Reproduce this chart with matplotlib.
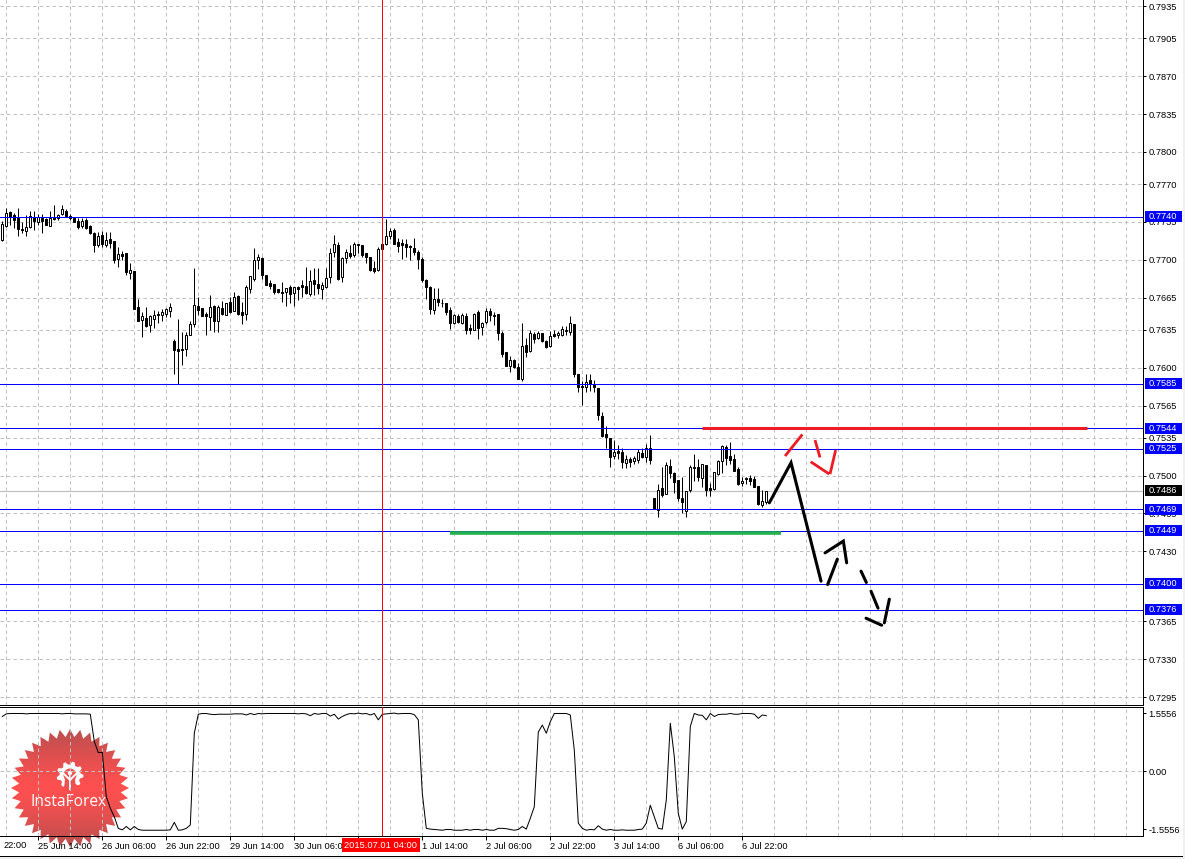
import numpy as np
import matplotlib
matplotlib.use("Agg")
import matplotlib.pyplot as plt
from matplotlib.patches import Polygon, Rectangle, Circle

FONT = "Liberation Sans"
plt.rcParams["font.family"] = [FONT, "DejaVu Sans"]

# ---- candle data, in points (1 point = 0.00001) ----
opens = [
 77182,77315,77442,77411,77390,77281,77269,77300,77399,77352,77386,77374,77315,77386,77386,77420,77451,77405,77383,77362,
 77315,77368,77312,77250,77136,77229,77136,77192,77173,77009,77050,77059,76880,76892,76558,76444,76456,76398,76453,76496,
 76490,76496,76527,76246,76178,76172,76175,76305,76404,76571,76552,76496,76472,76571,76435,76552,76490,76605,76527,76663,
 76512,76500,76731,76821,77000,77016,76855,76781,76775,76728,76700,76700,76750,76694,76744,
 76765,76756,76682,76811,76774,76731,76750,76842,77068,77136,76842,77018,77059,77043,77142,77133,77059,77028,76920,76904,
 77142,77145,77222,77275,77164,77154,77145,77123,77105,77071,77006,76811,76750,76536,76635,76604,76595,76533,76410,76478,
 76416,76478,76366,76354,76515,76379,76422,76530,76487,76493,76323,76144,76017,76070,76005,75894,76209,76156,76311,76274,
 76317,76246,76200,76308,76302,76305,76342,76329,
 76404,75941,75830,75824,75886,75849,75808,75552,75385,75345,75181,75231,75215,75119,75153,75138,75147,75209,75169,75252,
 74792,74680,74884,74829,75088,75023,74959,74789,74674,74866,75085,75076,74974,75095,74884,74875,75020,75138,75268,75178,
 75159,75061,74931,74974,74977,74968,74909,74724,74758]
closes = [
 77328,77430,77393,77371,77288,77275,77306,77405,77362,77393,77362,77325,77386,77374,77411,77467,77408,77386,77352,77306,
 77359,77291,77244,77136,77220,77145,77182,77158,76997,77050,77037,76886,76901,76546,76435,76475,76385,76478,76484,76487,
 76512,76540,76561,76166,76154,76163,76302,76401,76577,76534,76481,76478,76561,76435,76561,76496,76595,76518,76651,76496,
 76490,76744,76846,76994,77022,76861,76768,76759,76700,76704,76694,76734,76682,76744,76731,
 76750,76688,76802,76774,76734,76762,76830,77059,77142,76821,77012,77071,77034,77142,77133,77043,77028,76904,76895,77096,
 77099,77216,77263,77145,77127,77139,77120,77117,77068,77006,76811,76750,76543,76641,76610,76598,76515,76416,76484,76422,
 76484,76354,76351,76502,76366,76410,76524,76487,76478,76323,76125,76020,76076,76008,75900,76200,76147,76317,76268,76326,
 76246,76193,76292,76298,76317,76357,76354,76413,
 75941,75818,75824,75870,75849,75818,75558,75366,75354,75175,75224,75212,75129,75156,75125,75163,75215,75175,75261,75144,
 74687,74872,74823,75095,75027,74943,74792,74758,74854,75085,75073,74989,75104,74869,74869,75030,75135,75271,75163,75147,
 75045,74925,74955,74965,74952,74894,74739,74767,74860]
highs = [
 77359,77476,77451,77430,77476,77352,77414,77451,77451,77424,77420,77383,77451,77507,77420,77507,77467,77424,77390,77383,
 77383,77383,77322,77260,77260,77269,77260,77260,77173,77115,77077,77059,76966,76892,76632,76518,76558,76487,76534,76527,
 76543,76549,76595,76262,76447,76333,76333,76432,76920,76651,76552,76518,76670,76580,76580,76617,76602,76651,76704,76673,
 76611,76765,76849,77105,77050,77028,76861,76812,76775,76728,76796,76734,76762,76750,76756,
 76811,76935,76904,76926,76920,76790,76920,77111,77229,77161,77021,77099,77136,77167,77142,77133,77059,77028,76988,77120,
 77151,77377,77297,77290,77198,77188,77188,77136,77204,77090,77028,76821,76756,76743,76734,76635,76601,76558,76502,76502,
 76509,76509,76404,76509,76533,76425,76549,76549,76518,76502,76342,76144,76107,76085,76045,76416,76271,76354,76332,76339,
 76323,76255,76342,76354,76342,76385,76385,76478,
 76404,75941,75876,75938,75938,75886,75808,75592,75459,75345,75329,75283,75252,75190,75175,75181,75246,75252,75298,75376,
 74792,74922,75082,75129,75159,75036,74959,74989,74860,75098,75197,75159,75107,75095,74928,75036,75144,75283,75283,75311,
 75200,75076,74989,74989,75002,74999,74909,74872,74860]
lows = [
 77173,77306,77322,77291,77223,77244,77223,77297,77275,77318,77250,77322,77315,77368,77368,77411,77399,77368,77346,77288,
 77297,77288,77238,77071,77115,77115,77115,77105,76972,76929,76997,76858,76818,76546,76435,76286,76379,76333,76364,76416,
 76435,76472,76472,75940,75848,76024,76110,76302,76379,76487,76481,76302,76348,76333,76333,76487,76487,76509,76521,76487,
 76404,76441,76688,76799,76914,76818,76768,76728,76682,76694,76605,76571,76602,76571,76626,
 76657,76679,76663,76672,76682,76635,76743,76787,77028,76811,76796,76972,77012,77028,77059,77021,76972,76898,76879,76898,
 76935,77139,77188,77142,77074,77006,77028,76997,77043,76913,76793,76635,76502,76499,76570,76558,76490,76363,76404,76416,
 76404,76311,76311,76348,76264,76305,76404,76434,76394,76255,76095,76014,75962,75993,75891,75878,76101,76150,76230,76268,
 76240,76184,76193,76280,76277,76292,76302,76305,
 75915,75777,75654,75777,75784,75771,75515,75360,75261,75082,75156,75159,75073,75073,75082,75107,75119,75166,75129,75107,
 74687,74619,74798,74829,74983,74844,74767,74656,74619,74850,74952,74952,74897,74813,74810,74872,75002,75023,75098,75107,
 75042,74918,74903,74921,74918,74894,74724,74711,74742]

oscillator = [
 1.47,1.54,1.55,1.55,1.55,1.55,1.54,1.55,1.55,1.55,1.55,1.55,1.55,1.55,1.55,1.54,1.55,1.55,1.54,1.54,
 1.54,1.54,1.53,0.80,0.50,0.51,-0.68,-0.99,-1.22,-1.53,-1.57,-1.48,-1.57,-1.48,-1.56,-1.58,-1.58,-1.58,-1.58,-1.58,
 -1.58,-1.58,-1.57,-1.37,-1.58,-1.57,-1.53,-1.44,1.02,1.53,1.55,1.55,1.53,1.52,1.53,1.53,1.53,1.53,1.54,1.54,
 1.54,1.51,1.55,1.52,1.55,1.54,1.55,1.55,1.55,1.55,1.55,1.55,1.55,1.55,1.54,1.55,1.54,1.49,1.55,1.53,
 1.55,1.55,1.48,1.53,1.40,1.47,1.52,1.55,1.54,1.56,1.54,1.55,1.51,1.55,1.38,1.53,1.54,1.55,1.56,1.54,
 1.55,1.55,1.55,1.52,1.38,-0.59,-1.53,-1.55,-1.56,-1.57,-1.58,-1.56,-1.56,-1.58,-1.58,-1.58,-1.56,-1.58,-1.56,-1.56,
 -1.58,-1.56,-1.58,-1.58,-1.53,-1.53,-1.54,-1.56,-1.58,-1.56,-1.48,-1.55,-1.26,-0.95,1.05,1.24,1.02,1.33,1.55,1.55,
 1.55,1.55,1.51,0.57,-1.39,-1.53,-1.58,-1.56,-1.57,-1.46,-1.55,-1.58,-1.56,-1.58,-1.58,-1.57,-1.58,-1.58,-1.58,-1.56,
 -1.55,-1.39,-0.91,-1.22,-1.53,-1.55,-0.77,1.29,0.39,-1.13,-1.55,-1.35,1.20,1.55,1.51,1.50,1.38,1.55,1.47,1.52,
 1.53,1.53,1.55,1.53,1.53,1.55,1.55,1.55,1.53,1.42,1.51,1.49]

# ---- levels and labels ----
price_ticks = [0.7935,0.7905,0.7870,0.7835,0.7800,0.7770,0.7735,0.7700,0.7665,0.7635,0.7600,
               0.7565,0.7535,0.7500,0.7465,0.7430,0.7365,0.7330,0.7295]
blue_levels = [0.7740,0.7585,0.7544,0.7525,0.7469,0.7449,0.7400,0.7376]
bid_level = 0.7486
osc_ticks = [1.5556, 0.0, -1.5556]
osc_tick_labels = ["1.5556", "0.00", "-1.5556"]
time_tick_bars = [9,25,41,57,73,105,121,137,153,169,185]
time_tick_labels = ["25 Jun 14:00","26 Jun 06:00","26 Jun 22:00","29 Jun 14:00","30 Jun 06:00",
                    "1 Jul 14:00","2 Jul 06:00","2 Jul 22:00","3 Jul 14:00","6 Jul 06:00","6 Jul 22:00"]
crosshair_bar = 95
crosshair_label = "2015.07.01 04:00"

# hand-drawn scenario: (bar, price in points)
black_strokes = [
 [(191.76,74749),(197.18,75120),(204.68,74023)],
 [(206.34,73992),(208.76,74227)],
 [(205.68,74285),(210.26,74394),(211.09,74193)],
 [(214.68,74116),(216.01,74011)],
 [(217.18,73930),(218.93,73773)],
 [(215.93,73680),(219.84,73615)],
 [(220.51,73637),(221.76,73856)],
]
red_strokes = [
 [(195.68,75182),(200.01,75382)],
 [(203.18,75330),(204.43,75169)],
 [(202.09,75129),(206.76,75015)],
 [(208.34,75237),(206.93,75015)],
]
red_segment = ((174.9,271.2),75438)
green_segment = ((111.9,194.7),74465)

# ---- layout ----
W, H = 1185, 859
PX = 72/100            # one pixel, in points
BLUE = "#0000ff"; GRID = "#c0c0c0"
fig = plt.figure(figsize=(W/100, H/100), dpi=100, facecolor="white")

def rect(l, t, r, b):
    return [l/W, 1-b/H, (r-l)/W, (b-t)/H]

fig.add_artist(Rectangle((1183/W,0),2/W,1,transform=fig.transFigure,fc="#f0f0f0",ec="none"))
fig.add_artist(Rectangle((0,0),1,2/H,transform=fig.transFigure,fc="#f0f0f0",ec="none"))
fig.add_artist(Rectangle((0,1-856.5/H),1183/W,1/H,transform=fig.transFigure,fc="black",ec="none"))

# ---- watermark ----
wm = fig.add_axes([0,0,1,1], zorder=0)
wm.set_xlim(0,W); wm.set_ylim(H,0); wm.axis("off")
cx, cy = 70, 788
n = 36
ang = np.linspace(0,2*np.pi,2*n,endpoint=False)
rad = np.where(np.arange(2*n)%2==0, 59, 51)
star = Polygon(np.c_[cx+rad*np.cos(ang), cy+rad*np.sin(ang)], closed=True, fc="none", ec="none")
wm.add_patch(star)
grad = (1-np.abs(np.linspace(-1,1,120))**1.3)[:,None]
c0 = np.array([0.72,0.31,0.31]); c1 = np.array([1.0,0.31,0.31])
img = c0[None,None,:] + (c1-c0)[None,None,:]*grad[:,:,None]
im = wm.imshow(img, extent=(cx-60,cx+60,cy+60,cy-60), aspect="auto", zorder=1)
im.set_clip_path(star)
wm.set_xlim(0,W); wm.set_ylim(H,0)
# gear
gx, gy = 70, 775
teeth = 9
ta = np.linspace(0,2*np.pi,teeth*4,endpoint=False)
tr = np.tile([13.5,13.5,10.5,10.5],teeth)
wm.add_patch(Polygon(np.c_[gx+tr*np.cos(ta), gy+tr*np.sin(ta)], closed=True, fc="white", ec="none", zorder=2))
wm.add_patch(Circle((gx,gy),6.5,fc="#f25050",ec="none",zorder=3))
wm.add_patch(Polygon([(gx-5,gy+4),(gx+5,gy+4),(gx+6,gy+14),(gx-6,gy+14)],fc="#f25050",ec="none",zorder=3))
wm.add_patch(Circle((gx,gy-2),2.2,fc="white",ec="none",zorder=4))
wm.add_patch(Rectangle((gx-1.2,gy),2.4,14.5,fc="white",ec="none",zorder=4))
wm.plot([gx-6,gx-1],[gy-1,gy+4],color="white",lw=1.4,zorder=4)
wm.plot([gx+6,gx+1],[gy-1,gy+4],color="white",lw=1.4,zorder=4)
wm.text(cx-1,801.5,"InstaForex",color="white",ha="center",va="center",fontsize=11.2,family="Open Sans",zorder=5)

# ---- panes ----
ax = fig.add_axes(rect(0,0,1143,705), zorder=2, facecolor="none")
os_ = fig.add_axes(rect(0,707,1143,836), zorder=3, facecolor="none")
XMIN, XMAX = -0.575, 285.175
ax.set_xlim(XMIN,XMAX); os_.set_xlim(XMIN,XMAX)
ax.set_ylim(0.72876,0.79406)
os_.set_ylim(-1.735,1.724)

grid_bars = np.arange(1,286,8)
dash = (0,(3.5,3))
for a in (ax,os_):
    for g in grid_bars:
        a.axvline(g,color=GRID,lw=PX,ls=dash,zorder=1)
    a.spines["left"].set_visible(False)
    for s in a.spines.values():
        s.set_linewidth(PX*1.0); s.set_color("black")
for p in price_ticks:
    ax.axhline(p,color=GRID,lw=PX,ls=dash,zorder=1)
os_.axhline(0,color=GRID,lw=PX,ls=dash,zorder=1)
ax.spines["top"].set_visible(False)

# candles
n_bars = len(opens)
idx = np.arange(n_bars)
o = np.array(opens)/1e5; c = np.array(closes)/1e5; hi = np.array(highs)/1e5; lo = np.array(lows)/1e5
ax.vlines(idx, lo, hi, color="black", lw=PX, zorder=3)
up = c >= o
ax.bar(idx, np.abs(c-o), bottom=np.minimum(o,c), width=0.5,
       color=np.where(up,"white","black"), edgecolor="black", linewidth=PX, zorder=4)

# levels
ax.axhline(bid_level,color="#c0c0c0",lw=PX*1.2,zorder=2)
for lv in blue_levels:
    ax.axhline(lv,color=BLUE,lw=PX,zorder=5)
for a in (ax,os_):
    a.axvline(crosshair_bar,color="#ff0000",lw=PX,zorder=5)

# drawn scenario
thick = dict(solid_capstyle="butt",zorder=6)
(x0,x1),yv = red_segment
ax.plot([x0,x1],[yv/1e5]*2,color="#ed1c24",lw=2.2,**thick)
(x0,x1),yv = green_segment
ax.plot([x0,x1],[yv/1e5]*2,color="#22b14c",lw=2.6,**thick)
for st in black_strokes:
    xs,ys = zip(*st)
    ax.plot(xs,np.array(ys)/1e5,color="black",lw=2.2,solid_capstyle="round",solid_joinstyle="miter",zorder=7)
for st in red_strokes:
    xs,ys = zip(*st)
    ax.plot(xs,np.array(ys)/1e5,color="#ed1c24",lw=2.0,solid_capstyle="butt",zorder=7)

# oscillator
os_.plot(idx,oscillator,color="black",lw=PX,zorder=4)

# axes labels
TS = 6.7
ax.yaxis.tick_right(); os_.yaxis.tick_right()
ax.set_yticks(price_ticks); ax.set_yticklabels([f"{p:.4f}" for p in price_ticks])
ax.tick_params(axis="y",length=2.2,width=PX,pad=1.8,labelsize=TS,colors="black")
ax.tick_params(axis="x",bottom=False,labelbottom=False)
os_.set_yticks(osc_ticks); os_.set_yticklabels(osc_tick_labels)
os_.tick_params(axis="y",length=2.2,width=PX,pad=1.8,labelsize=TS)
os_.set_xticks(time_tick_bars+[89]); os_.set_xticklabels(time_tick_labels+[""],ha="left")
os_.tick_params(axis="x",length=2.6,width=PX,pad=2.0,labelsize=TS)
trans = os_.get_xaxis_transform()
os_.text(0.2,-0.0715,"22:00",transform=trans,ha="left",va="center",fontsize=TS,clip_on=False)
os_.text(crosshair_bar-0.35,-0.0715,crosshair_label,transform=trans,ha="center",va="center",fontsize=TS,color="white",
         clip_on=False,zorder=9,bbox=dict(boxstyle="square,pad=0.28",fc="#ff0000",ec="none"))

# price label boxes
yt = ax.get_yaxis_transform()
PRICE_PER_PX = (0.79406-0.72876)/705
def badge(v,fc):
    ax.add_patch(Rectangle((1145/1143,v-5.5*PRICE_PER_PX),37/1143,11*PRICE_PER_PX,transform=yt,fc=fc,ec="none",
                           clip_on=False,zorder=9))
    ax.text(1149/1143,v,f"{v:.4f}",transform=yt,ha="left",va="center",fontsize=TS,color="white",clip_on=False,zorder=10)
for lv in blue_levels:
    badge(lv,BLUE)
badge(bid_level,"black")

fig.savefig("out.png",dpi=100,facecolor="white")
